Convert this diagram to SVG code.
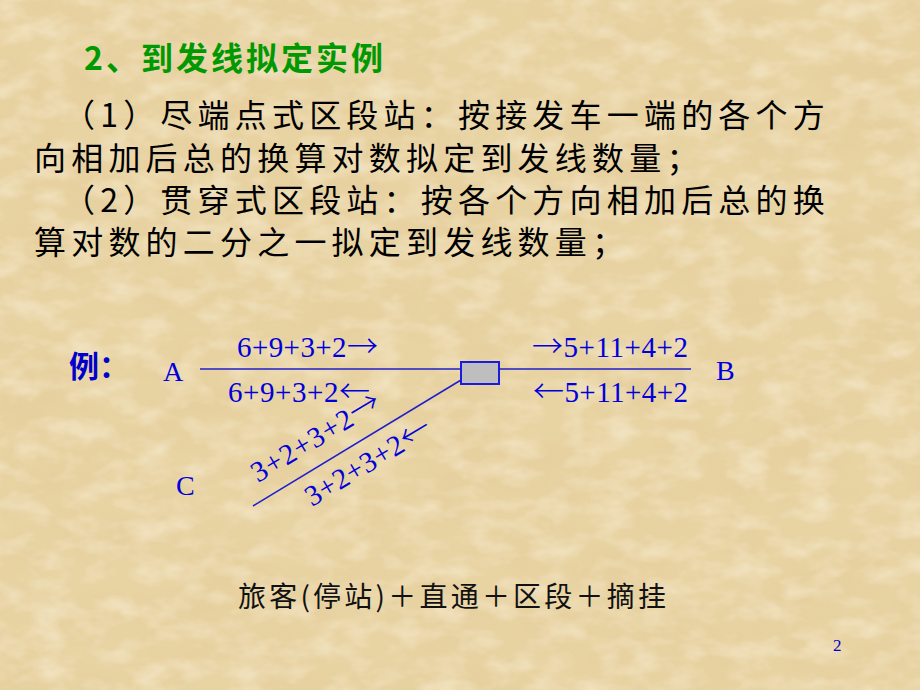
<svg xmlns="http://www.w3.org/2000/svg" width="920" height="690" viewBox="0 0 920 690">
  <defs>
    <filter id="parch" x="0" y="0" width="100%" height="100%">
      <feTurbulence type="fractalNoise" baseFrequency="0.012 0.018" numOctaves="4" seed="7" result="n"/>
      <feColorMatrix in="n" type="matrix" values="0 0 0 0 0.78  0 0 0 0 0.60  0 0 0 0 0.32  1.8 0 0 0 -0.68" result="c"/>
      <feComposite in="c" in2="SourceGraphic" operator="in"/>
    </filter>
    <filter id="spec" x="0" y="0" width="100%" height="100%">
      <feTurbulence type="fractalNoise" baseFrequency="0.03 0.05" numOctaves="3" seed="11" result="n"/>
      <feColorMatrix in="n" type="matrix" values="0 0 0 0 0.99  0 0 0 0 0.94  0 0 0 0 0.80  1.8 0 0 0 -0.75"/>
      <feComposite in2="SourceGraphic" operator="in"/>
    </filter>
    <style>
      .cjk { font-family: "Noto Sans CJK SC", "Noto Sans", sans-serif; fill: #000; }
      .para { font-size: 32px; letter-spacing: 5.2px; }
      .title { font-size: 32px; font-weight: bold; fill: #009900; letter-spacing: 3px; }
      .ex { font-size: 30px; font-weight: bold; fill: #0000CC; }
      .lbl { font-family: "Liberation Serif", "Times New Roman", serif; font-size: 29px; fill: #0000DD; }
      .arr { font-family: "Noto Sans CJK SC", sans-serif; font-weight: 300; font-size: 31px; }
      .node { font-family: "Liberation Serif", "Times New Roman", serif; font-size: 28px; fill: #0000DD; }
      .track { stroke: #1F1FCC; stroke-width: 1.6; fill: none; }
      .stn { fill: #BEBEBE; stroke: #1A1AE0; stroke-width: 2; }
      .bottom { font-size: 28px; fill: #111; }
      .pg { font-family: "Liberation Serif", "Times New Roman", serif; font-size: 17px; fill: #0000CC; }
    </style>
  </defs>

  <!-- background -->
  <rect x="0" y="0" width="920" height="690" fill="#E8D3A3"/>
  <rect x="0" y="0" width="920" height="690" fill="#fff" filter="url(#parch)" opacity="0.6"/>
  <rect x="0" y="0" width="920" height="690" fill="#fff" filter="url(#spec)" opacity="0.5"/>

  <!-- heading and paragraphs -->
  <text class="cjk title" x="84" y="70">2、到发线拟定实例</text>
  <text class="cjk para" x="63" y="127">（1）尽端点式区段站：按接发车一端的各个方</text>
  <text class="cjk para" x="34" y="170">向相加后总的换算对数拟定到发线数量；</text>
  <text class="cjk para" x="63" y="212">（2）贯穿式区段站：按各个方向相加后总的换</text>
  <text class="cjk para" x="34" y="254">算对数的二分之一拟定到发线数量；</text>

  <text class="cjk ex" x="69" y="377">例：</text>

  <!-- connectors -->
  <g id="connectors">
    <line class="track" x1="200" y1="369" x2="461" y2="369"/>
    <line class="track" x1="499" y1="369" x2="691" y2="369"/>
    <line class="track" x1="461" y1="380" x2="253" y2="506"/>
  </g>

  <!-- nodes -->
  <g id="node-A"><text class="node" x="163" y="381">A</text></g>
  <g id="node-B"><text class="node" x="716" y="380">B</text></g>
  <g id="node-C"><text class="node" x="176" y="495">C</text></g>
  <g id="node-station"><rect class="stn" x="461" y="362" width="38" height="22"/></g>

  <!-- flow labels -->
  <g id="labels">
    <text class="lbl" x="237" y="357" textLength="141" lengthAdjust="spacing">6+9+3+2<tspan class="arr">→</tspan></text>
    <text class="lbl" x="228" y="402" textLength="142" lengthAdjust="spacing">6+9+3+2<tspan class="arr">←</tspan></text>
    <text class="lbl" x="532" y="357" textLength="156" lengthAdjust="spacing"><tspan class="arr">→</tspan>5+11+4+2</text>
    <text class="lbl" x="533" y="402" textLength="155" lengthAdjust="spacing"><tspan class="arr">←</tspan>5+11+4+2</text>
    <text class="lbl" x="258" y="483" transform="rotate(-31 258 483)" textLength="146" lengthAdjust="spacing">3+2+3+2<tspan class="arr">→</tspan></text>
    <text class="lbl" x="312" y="507" transform="rotate(-31 312 507)" textLength="142" lengthAdjust="spacing">3+2+3+2<tspan class="arr">←</tspan></text>
  </g>

  <text class="cjk bottom" x="238" y="607" textLength="428" lengthAdjust="spacing">旅客(停站)＋直通＋区段＋摘挂</text>

  <text class="pg" x="833" y="651">2</text>
</svg>
